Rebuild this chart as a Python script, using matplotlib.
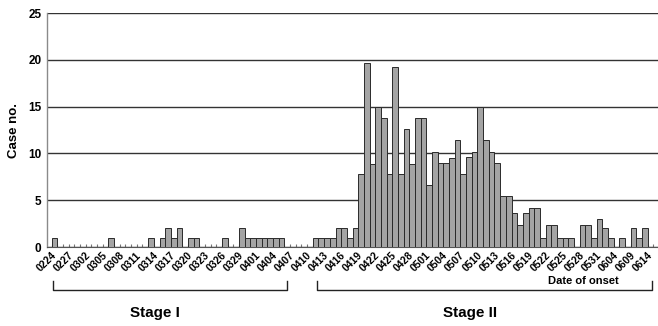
import matplotlib
matplotlib.use('Agg')
import matplotlib.pyplot as plt
import numpy as np
from matplotlib.transforms import blended_transform_factory

plt.rcParams['font.family'] = ['Liberation Sans', 'DejaVu Sans']
plt.rcParams['font.weight'] = 'bold'

# ---- data (cases per onset-date category) ----
stage1_counts = [1, 0, 0, 0, 0, 0, 0, 0, 0, 0,
                 1, 0, 0, 0, 0, 0, 0, 1, 0, 1,
                 2, 1, 2, 0, 1, 1, 0, 0, 0, 0,
                 1, 0, 0, 2, 1, 1, 1, 1, 1, 1,
                 1, 0, 0, 0, 0, 0]
stage2_counts = [1, 1, 1, 1, 2, 2, 1, 2, 7.8, 19.7,
                 8.9, 15.0, 13.8, 7.8, 19.2, 7.8, 12.6, 8.9, 13.8, 13.8,
                 6.6, 10.1, 9.0, 9.0, 9.5, 11.4, 7.8, 9.6, 10.1, 15.0,
                 11.4, 10.1, 9.0, 5.4, 5.4, 3.6, 2.4, 3.6, 4.2, 4.2,
                 1, 2.4, 2.4, 1, 1, 1, 0, 2.4, 2.4, 1,
                 3, 2, 1, 0, 1, 0, 2, 1, 2]
trailing_counts = [0]

tick_labels = ['0224', '0227', '0302', '0305', '0308', '0311', '0314', '0317',
               '0320', '0323', '0326', '0329', '0401', '0404', '0407', '0410',
               '0413', '0416', '0419', '0422', '0425', '0428', '0501', '0504',
               '0507', '0510', '0513', '0516', '0519', '0522', '0525', '0528',
               '0531', '0604', '0609', '0614']
y_ticks = [0, 5, 10, 15, 20, 25]

counts = np.array(stage1_counts + stage2_counts + trailing_counts, dtype=float)
x = np.arange(len(counts))
nz = counts > 0

fig = plt.figure(figsize=(6.58, 3.26), dpi=100)
ax = fig.add_axes([47 / 658, 1 - 247 / 326, 611 / 658, 234 / 326])

ax.bar(x[nz], counts[nz], width=1.0, color='#a4a4a4', edgecolor='#2a2a2a',
       linewidth=0.7, zorder=3)

ax.set_xlim(-1.32, 106.3)
ax.set_ylim(0, 25)
ax.set_yticks(y_ticks)
ax.set_yticklabels([str(v) for v in y_ticks], fontsize=8.5, fontweight='bold')
ax.grid(axis='y', color='#333333', linewidth=1.0, zorder=1)
ax.tick_params(axis='y', length=0, pad=4)

ax.set_xticks(x[::3])
ax.set_xticklabels(tick_labels, rotation=45, ha='right', va='center',
                   rotation_mode='anchor', fontsize=7.5, fontweight='bold')
ax.tick_params(axis='x', which='major', length=0, pad=5)
ax.set_xticks(np.arange(-0.5, len(counts)), minor=True)
ax.tick_params(axis='x', which='minor', direction='in', length=2,
               color='#777777', width=0.8)

for s in ['top', 'right']:
    ax.spines[s].set_visible(False)
ax.spines['left'].set_color('#8a8a8a')
ax.spines['left'].set_linewidth(1.0)
ax.spines['bottom'].set_color('#555555')
ax.spines['bottom'].set_linewidth(0.8)

ax.set_ylabel('Case no.', fontsize=9.5, fontweight='bold')
ax.yaxis.set_label_coords(-0.045, 0.5)

# stage brackets
tr = blended_transform_factory(ax.transData, ax.transAxes)
y_low, y_high = -0.184, -0.145
for x0, x1 in [(-0.26, 40.97), (46.25, 105.3)]:
    ax.plot([x0, x0, x1, x1], [y_high, y_low, y_low, y_high], color='#222222',
            linewidth=1.0, transform=tr, clip_on=False)

ax.text(17.7, -0.282, 'Stage I', transform=tr, ha='center', va='center',
        fontsize=11, fontweight='bold')
ax.text(73.2, -0.282, 'Stage II', transform=tr, ha='center', va='center',
        fontsize=11, fontweight='bold')
ax.text(93.1, -0.145, 'Date of onset', transform=tr, ha='center', va='center',
        fontsize=8, fontweight='bold')

fig.savefig('out.png', dpi=100)
